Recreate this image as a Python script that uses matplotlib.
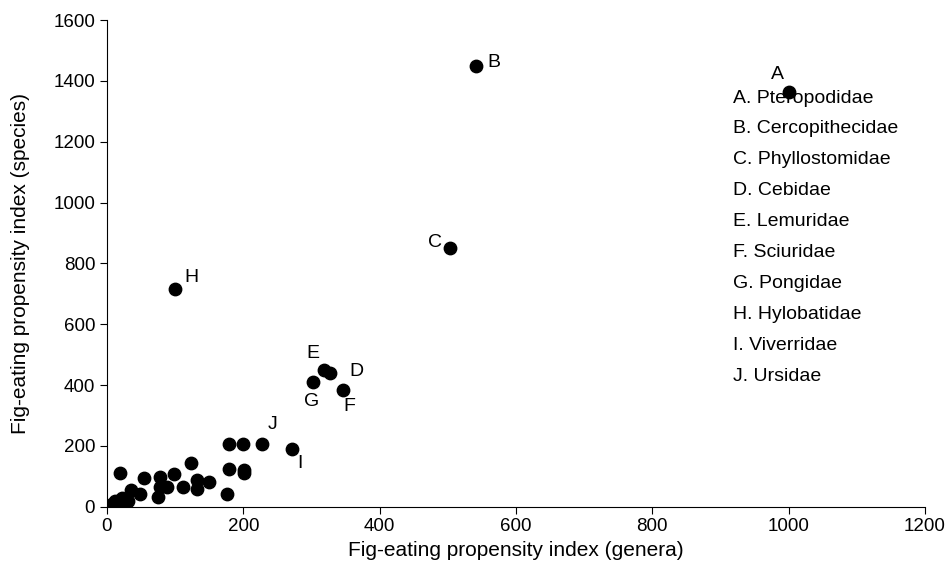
import matplotlib
matplotlib.use("Agg")
import matplotlib.pyplot as plt

plt.rcParams["font.family"] = ["Liberation Sans", "DejaVu Sans"]

# labelled families: genera index, species index
labels = ["A", "B", "C", "D", "E", "F", "G", "H", "I", "J"]
lab_x = [1000, 541, 503, 327, 318, 346, 302, 100, 271, 227]
lab_y = [1365, 1448, 852, 439, 449, 383, 409, 717, 191, 205]
# label offsets in points
lab_dx = [-8, 13, -11, 19, -8, 5, -1, 12, 6, 8]
lab_dy = [12, 3, 4, 1, 12, -12, -14, 8, -11, 14]

# unlabelled families
other_x = [179, 200, 123, 19, 54, 99, 78, 179, 201, 201, 132, 150, 111, 88, 78,
           132, 49, 75, 176, 35, 31, 22, 12, 7, 25, 15]
other_y = [205, 205, 142, 109, 93, 106, 96, 125, 122, 109, 89, 80, 66, 63, 66,
           59, 40, 33, 40, 56, 17, 27, 17, 10, 20, 8]

legend = ["A. Pteropodidae", "B. Cercopithecidae", "C. Phyllostomidae",
          "D. Cebidae", "E. Lemuridae", "F. Sciuridae", "G. Pongidae",
          "H. Hylobatidae", "I. Viverridae", "J. Ursidae"]

fig = plt.figure(figsize=(9.51, 5.77), dpi=100)
ax = fig.add_axes([0.1125, 0.122, 0.86, 0.843])

ax.scatter(other_x, other_y, s=80, color="black", zorder=3)
ax.scatter(lab_x, lab_y, s=80, color="black", zorder=3)
for l, x, y, dx, dy in zip(labels, lab_x, lab_y, lab_dx, lab_dy):
    ax.annotate(l, (x, y), xytext=(dx, dy), textcoords="offset points",
                fontsize=14, ha="center", va="center")

for i, t in enumerate(legend):
    ax.text(0.765, 0.84 - i * 0.0635, t, transform=ax.transAxes,
            fontsize=14, va="center", ha="left")

ax.set_xlim(0, 1200)
ax.set_ylim(0, 1600)
ax.set_xticks(range(0, 1201, 200))
ax.set_yticks(range(0, 1601, 200))
ax.spines["top"].set_visible(False)
ax.spines["right"].set_visible(False)
ax.tick_params(labelsize=13.5, length=5, direction="out")
ax.set_xlabel("Fig-eating propensity index (genera)", fontsize=15, labelpad=4)
ax.set_ylabel("Fig-eating propensity index (species)", fontsize=15, labelpad=17)

fig.savefig("out.png", dpi=100)
